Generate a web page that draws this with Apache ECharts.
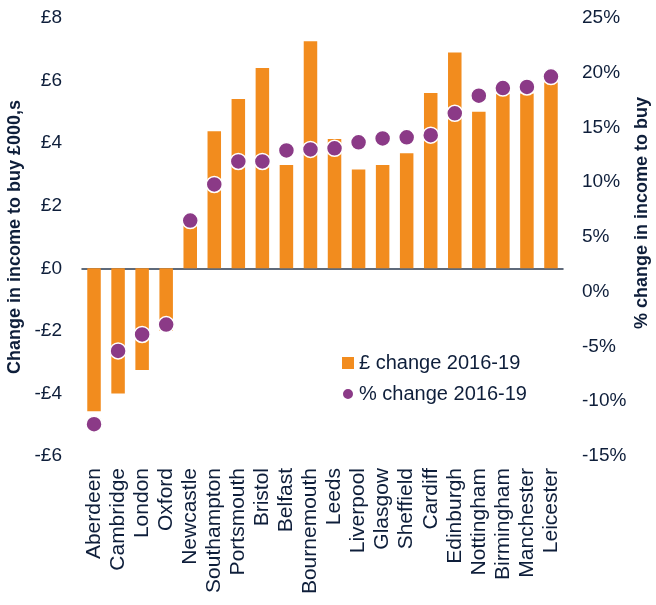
<!DOCTYPE html>
<html><head><meta charset="utf-8">
<script src="https://cdn.jsdelivr.net/npm/echarts@6/dist/echarts.min.js"></script>
<style>html,body{margin:0;padding:0;background:#fff}#c{width:656px;height:605px}</style>
</head><body><div id="c"></div>
<script>
const cities = ["Aberdeen","Cambridge","London","Oxford","Newcastle","Southampton","Portsmouth","Bristol","Belfast","Bournemouth","Leeds","Liverpool","Glasgow","Sheffield","Cardiff","Edinburgh","Nottingham","Birmingham","Manchester","Leicester"];
const poundChange = [-4.57,-4.0,-3.25,-2.0,1.36,4.38,5.41,6.40,3.30,7.26,4.13,3.16,3.30,3.68,5.60,6.90,5.0,5.57,5.59,5.95];
const pctChange = [-12.1,-5.4,-3.9,-3.0,6.5,9.8,11.9,11.9,12.9,13.0,13.1,13.65,14.0,14.1,14.3,16.3,17.9,18.6,18.7,19.65];
const leftTicks = {min:-6,max:8,interval:2};
const rightTicks = {min:-15,max:25,interval:5};
const rightAxisTitle = '% change in income to buy';

const txt = '#0e1e3a';
const font = 'Liberation Sans, Arial, sans-serif';
const chart = echarts.init(document.getElementById('c'));
chart.setOption({
  animation:false,
  textStyle:{fontFamily:font},
  grid:{left:82,right:93,top:18,bottom:149,containLabel:false,outerBoundsMode:'none'},
  legend:{
    orient:'vertical', left:336, top:348, itemGap:11, itemWidth:12, itemHeight:12,
    textStyle:{fontSize:20,color:txt,fontFamily:font,padding:[0,0,0,0]},
    data:[{name:'£ change 2016-19',icon:'rect'},{name:'% change 2016-19',icon:'circle'}]
  },
  xAxis:[
    {type:'category',data:cities,position:'bottom',axisLine:{show:false},axisTick:{show:false},
     axisLabel:{rotate:90,fontSize:21,color:txt,margin:12,interval:0,fontFamily:font}},
    {type:'category',data:cities,position:'bottom',
     axisLine:{onZero:true,onZeroAxisIndex:0,lineStyle:{color:'#2b3a4f',width:1.5}},
     axisTick:{show:false},axisLabel:{show:false}}
  ],
  yAxis:[
    {type:'value',min:leftTicks.min,max:leftTicks.max,interval:leftTicks.interval,
     splitLine:{show:false},axisLine:{show:false},axisTick:{show:false},
     axisLabel:{fontSize:19,color:txt,margin:20,formatter:v=>(v<0?'-£'+(-v):'£'+v),fontFamily:font},
     name:'Change in income to buy £000,s',nameLocation:'middle',nameGap:56,nameRotate:90,
     nameTextStyle:{fontSize:18,fontWeight:'bold',color:txt,fontFamily:font}},
    {type:'value',min:rightTicks.min,max:rightTicks.max,interval:rightTicks.interval,position:'right',
     splitLine:{show:false},axisLine:{show:false},axisTick:{show:false},
     axisLabel:{fontSize:19,color:txt,margin:19,formatter:v=>v+'%',fontFamily:font}}
  ],
  graphic:[{type:'text',x:642,y:213,rotation:Math.PI/2,
    style:{text:rightAxisTitle,fontSize:18,fontWeight:'bold',fill:txt,fontFamily:font,align:'center',verticalAlign:'middle'}}],
  series:[
    {name:'£ change 2016-19',type:'bar',data:poundChange,xAxisIndex:0,yAxisIndex:0,barWidth:13.5,
     itemStyle:{color:'#F28C1E'}},
    {name:'% change 2016-19',type:'scatter',data:pctChange,xAxisIndex:0,yAxisIndex:1,symbolSize:16,
     itemStyle:{color:'#8B3A87',borderColor:'#fff',borderWidth:1.5,opacity:1}}
  ]
});
</script></body></html>
